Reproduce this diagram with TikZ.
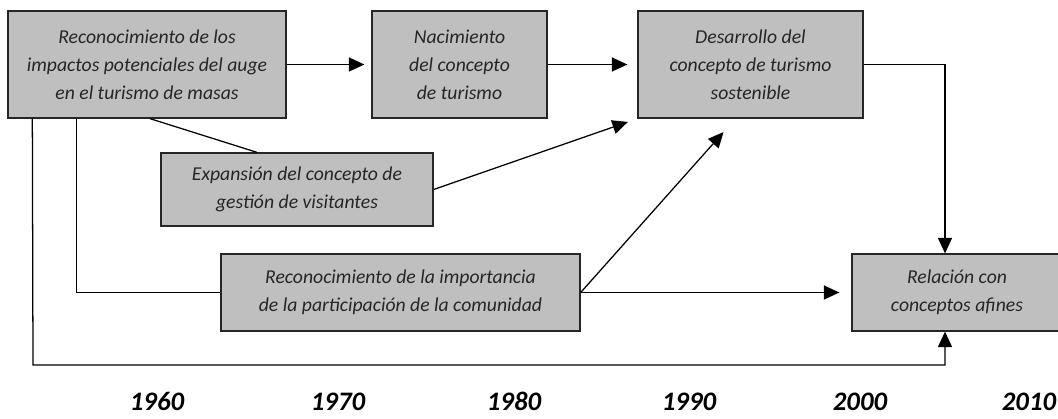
\documentclass[tikz,border=0pt]{standalone}
\usepackage{fontspec}
\setmainfont{Carlito}
\usepackage{tikz}
\usetikzlibrary{arrows.meta, positioning, calc}

\begin{document}
\begin{tikzpicture}[x=0.025cm, y=-0.025cm,
    caja/.style={draw=black!85, line width=0.9pt, fill=black!25, align=center, text=black!85, font=\itshape\fontsize{14}{20}\selectfont, inner sep=0pt},
    flecha/.style={-{Triangle[length=11pt, width=10pt]}, line width=0.9pt},
    linea/.style={line width=0.9pt},
    anio/.style={font=\bfseries\itshape\fontsize{19}{22}\selectfont, inner sep=0pt, anchor=base}]
    \useasboundingbox (0,0) rectangle (1058,419);

    % Impactos del turismo de masas
    \node[caja, minimum width=6.95cm, minimum height=2.675cm] (impactos) at (147,64.5) {Reconocimiento de los\\impactos potenciales del auge\\en el turismo de masas};

    % Nacimiento
    \node[caja, minimum width=4.375cm, minimum height=2.675cm] (nacimiento) at (459.5,64.5) {Nacimiento\\del concepto\\de turismo};

    % Turismo sostenible
    \node[caja, minimum width=5.625cm, minimum height=2.675cm] (sostenible) at (750.5,64.5) {Desarrollo del\\concepto de turismo\\sostenible};

    % Gestion de visitantes
    \node[caja, minimum width=6.8cm, minimum height=1.825cm] (visitantes) at (297,189.5) {Expansión del concepto de\\gestión de visitantes};

    % Comunidad
    \node[caja, minimum width=8.975cm, minimum height=1.925cm] (comunidad) at (400.5,292.5) {Reconocimiento de la importancia\\de la participación de la comunidad};

    % Conceptos afines
    \node[caja, minimum width=5.25cm, minimum height=1.925cm] (afines) at (957,292.5) {Relación con\\conceptos afines};

    % Arrows
    \draw[flecha, shorten >=0.175cm] (impactos) -- (nacimiento);
    \draw[flecha, shorten >=0.25cm] (nacimiento) -- (sostenible);
    \draw[linea] ($(impactos.south)+(3,0)$) -- ($(visitantes.north)+(-40,0)$);
    \draw[flecha, shorten >=0.25cm] (visitantes.east) -- (sostenible.south west);
    \draw[flecha, shorten >=0.45cm] (comunidad.east) -- ($(sostenible.south)+(-15,0)$);
    \draw[flecha, shorten >=0.3cm] (comunidad.east) -- (afines.west);
    \draw[flecha] (sostenible.east) -| ($(afines.north)+(-12,0)$);
    \draw[linea] ($(impactos.south west)+(69,0)$) |- (comunidad.west);
    \coordinate (fondo) at (33,365);
    \draw[flecha] ($(impactos.south west)+(25,0)$) -- (fondo) -| ($(afines.south)+(-12,0)$);

    % Years
    \foreach \anio/\x in {1960/157, 1970/338, 1980/514, 1990/689, 2000/860, 2010/1029}
        \node[anio] (a\anio) at (\x,410) {\anio};
\end{tikzpicture}
\end{document}
